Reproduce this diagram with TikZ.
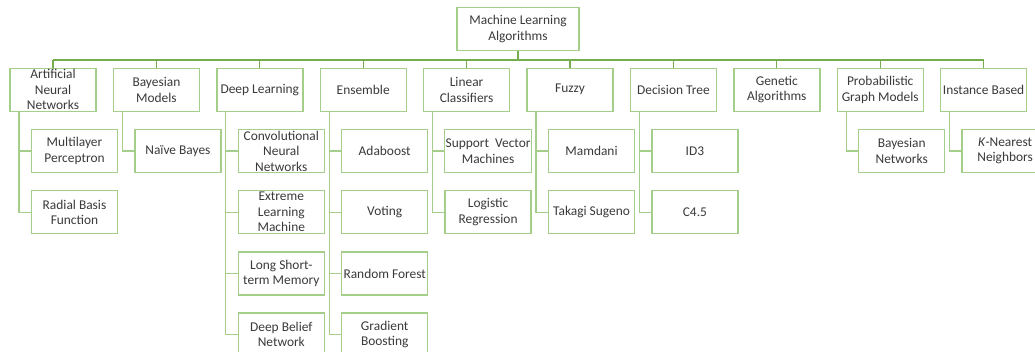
\documentclass[tikz,border=0pt]{standalone}
\usepackage{fontspec}
\setmainfont{Carlito}
\definecolor{boxg}{RGB}{165,206,138}
\definecolor{busg}{RGB}{120,172,80}
\definecolor{txt}{RGB}{58,58,58}
\begin{document}
\begin{tikzpicture}[x=1pt,y=-1pt,
 cat/.style={draw=boxg,line width=1.4pt,minimum width=86pt,minimum height=43pt,inner sep=1pt,align=center,text=txt,font=\fontsize{13.4}{15.5}\selectfont},
 rootbox/.style={cat,minimum width=122pt},
 busline/.style={draw=busg,line width=1.3pt},
 link/.style={draw=boxg,line width=1.3pt}]
\useasboundingbox (0,0) rectangle (1035,351);
\clip (0,0) rectangle (1035,351);
\fill[white] (0,0) rectangle (1035,351);
\coordinate (bus) at (0,60);
\node[rootbox] (root) at (518,29) {Machine Learning\\Algorithms};
% level 1
\node[cat] (ann) at (53,89.7) {Artificial\\Neural\\Networks};
\node[cat] (bay) at (156.4,89.7) {Bayesian\\Models};
\node[cat] (dl) at (259.8,89.7) {Deep Learning};
\node[cat] (ens) at (363.2,89.7) {Ensemble};
\node[cat] (lin) at (466.6,89.7) {Linear\\Classifiers};
\node[cat] (fuz) at (570,89.7) {Fuzzy};
\node[cat] (dt) at (673.4,89.7) {Decision Tree};
\node[cat] (gen) at (776.8,89.7) {Genetic\\Algorithms};
\node[cat] (pgm) at (880.2,89.7) {Probabilistic\\Graph Models};
\node[cat] (inst) at (983.6,89.7) {Instance Based};
% level 2
\node[cat] (mlp) at (74.5,151) {Multilayer\\Perceptron};
\node[cat] (rbf) at (74.5,212.2) {Radial Basis\\Function};
\node[cat] (nb) at (177.9,151) {Naïve Bayes};
\node[cat] (cnn) at (281.3,151) {Convolutional\\Neural\\Networks};
\node[cat] (elm) at (281.3,212.2) {Extreme\\Learning\\Machine};
\node[cat] (lstm) at (281.3,273.4) {Long Short-\\term Memory};
\node[cat] (dbn) at (281.3,334.6) {Deep Belief\\Network};
\node[cat] (ada) at (384.7,151) {Adaboost};
\node[cat] (vot) at (384.7,212.2) {Voting};
\node[cat] (rf) at (384.7,273.4) {Random Forest};
\node[cat] (gb) at (384.7,334.6) {Gradient\\Boosting};
\node[cat] (svm) at (488.1,151) {Support~ Vector\\Machines};
\node[cat] (lr) at (488.1,212.2) {Logistic\\Regression};
\node[cat] (mam) at (591.5,151) {Mamdani};
\node[cat] (ts) at (591.5,212.2) {Takagi Sugeno};
\node[cat] (id3) at (694.9,151) {ID3};
\node[cat] (c45) at (694.9,212.2) {C4.5};
\node[cat] (bn) at (901.7,151) {Bayesian\\Networks};
\node[cat] (knn) at (1005.1,151) {\textit{K}-Nearest\\Neighbors};
% bus
\draw[busline] (root.south) -- (root.south |- bus);
\draw[busline] (ann.north |- bus) -- (inst.north |- bus);
\foreach \n in {ann,bay,dl,ens,lin,fuz,dt,gen,pgm,inst}
  \draw[busline] (\n.north) -- (\n.north |- bus);
% children links
\foreach \p/\c in {ann/mlp,ann/rbf,bay/nb,dl/cnn,dl/elm,dl/lstm,dl/dbn,ens/ada,ens/vot,ens/rf,ens/gb,lin/svm,lin/lr,fuz/mam,fuz/ts,dt/id3,dt/c45,pgm/bn,inst/knn}
  \draw[link] ([xshift=-34pt]\p.south) |- (\c.west);
\end{tikzpicture}
\end{document}
